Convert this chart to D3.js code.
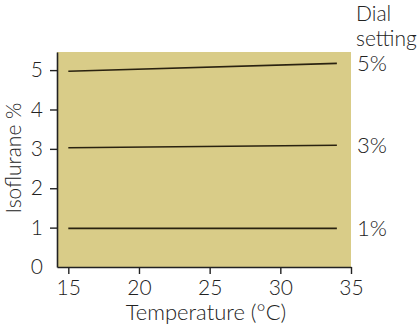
<!DOCTYPE html>
<html><head><meta charset="utf-8">
<script src="https://cdn.jsdelivr.net/npm/d3@7"></script>
<style>
html,body{margin:0;padding:0;background:#fff;}
text{font-family:Lato,"Open Sans",sans-serif;fill:#222;font-weight:300;}
</style></head>
<body><svg id="c" width="418" height="326"></svg>
<script>
const temps = [15, 34];
const dial5 = [4.97, 5.17];
const dial3 = [3.03, 3.09];
const dial1 = [0.98, 0.98];
const dialLabels = ["5%", "3%", "1%"];
const xTicks = [15, 20, 25, 30, 35];
const yTicks = [0, 1, 2, 3, 4, 5];

const series = [dial5, dial3, dial1];
const svg = d3.select("#c");
const L = 57, R = 351, T = 52, B = 267;
const x = d3.scaleLinear().domain([14.2, 35]).range([L, R]);
const y = d3.scaleLinear().domain([0, 5.46]).range([B, T]);

svg.append("rect").attr("x", L).attr("y", T).attr("width", R - L).attr("height", B - T)
  .attr("fill", "#d9cc88");

const fs = 21;
const gx = svg.append("g").attr("transform", `translate(0,${B})`)
  .call(d3.axisBottom(x).tickValues(xTicks).tickFormat(d3.format("d")).tickSize(7).tickSizeOuter(0).tickPadding(6));
const gy = svg.append("g").attr("transform", `translate(${L},0)`)
  .call(d3.axisLeft(y).tickValues(yTicks).tickFormat(d3.format("d")).tickSize(7).tickSizeOuter(0).tickPadding(7));
[gx, gy].forEach(g => {
  g.selectAll("path.domain").attr("stroke", "#222").attr("stroke-width", 1.6);
  g.selectAll(".tick line").attr("stroke", "#222").attr("stroke-width", 1.4);
  g.selectAll(".tick text").attr("font-size", fs).attr("font-family", "Lato,'Open Sans',sans-serif").attr("fill", "#222");
});
gy.selectAll(".tick").filter(d => d === 0).select("line").remove();

const line = d3.line().x((d, i) => x(temps[i])).y(d => y(d));
series.forEach((s, k) => {
  svg.append("path").datum(s).attr("d", line).attr("fill", "none")
    .attr("stroke", "#2a2210").attr("stroke-width", 1.6);
  svg.append("text").attr("x", 357).attr("y", y(s[1]))
    .attr("dy", "0.35em").attr("font-size", 22).text(dialLabels[k]);
});

svg.append("text").attr("x", 356).attr("y", 21).attr("font-size", 21).text("Dial");
svg.append("text").attr("x", 356).attr("y", 46).attr("font-size", 21).text("setting");

svg.append("text").attr("x", (L + R) / 2 + 2).attr("y", 320).attr("text-anchor", "middle")
  .attr("font-size", 22).text("Temperature (°C)");
svg.append("text").attr("transform", "translate(21,158) rotate(-90)")
  .attr("text-anchor", "middle").attr("font-size", 21).text("Isoflurane %");
</script></body></html>
